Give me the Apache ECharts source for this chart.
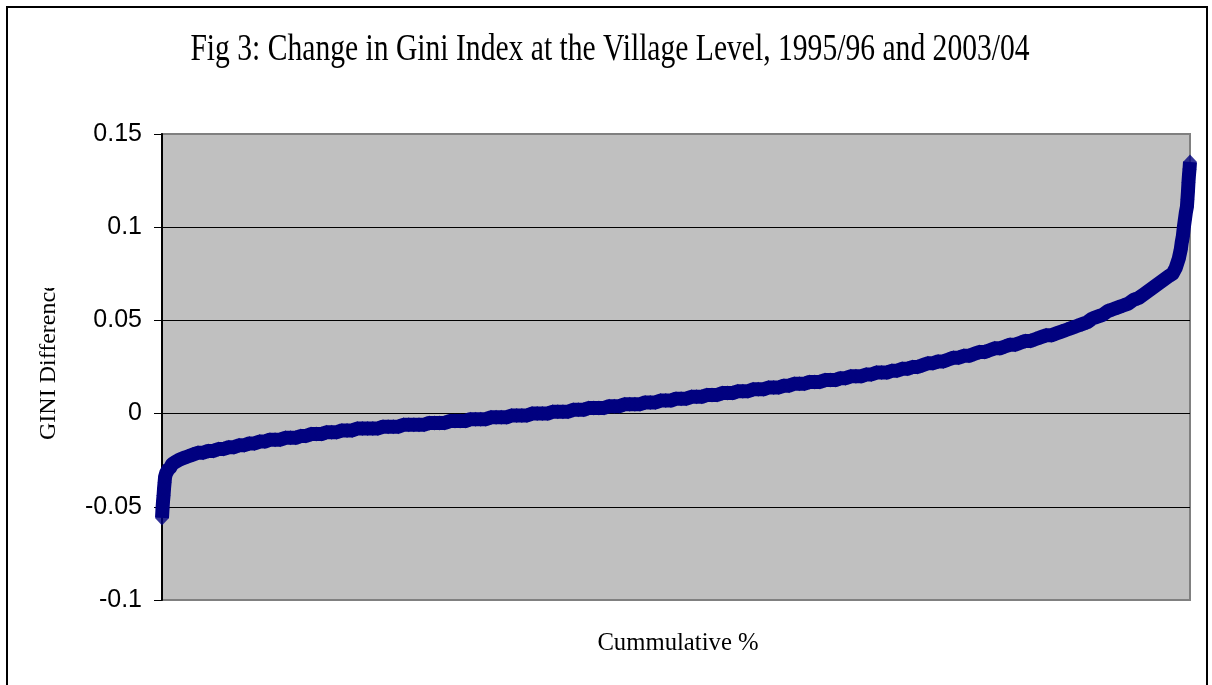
<!DOCTYPE html>
<html>
<head>
<meta charset="utf-8">
<title>Change in Gini Index at the Village Level</title>
<script src="https://cdn.jsdelivr.net/npm/echarts@6/dist/echarts.min.js"></script>
<style>
  html, body { margin: 0; padding: 0; background: #fff; }
  #main { width: 1212px; height: 685px; }
</style>
</head>
<body>
<div id="main"></div>
<script>
// cumulative % of villages (ranked)
const cumPct = [
  0, 0.05, 0.1, 0.15, 0.2, 0.25, 0.3, 0.4, 0.5, 0.6,
  0.8, 1, 1.3, 1.6, 2, 2.5, 3, 3.5, 4, 4.5,
  5, 5.5, 6, 6.5, 7, 7.5, 8, 8.5, 9, 9.5,
  10, 10.5, 11, 11.5, 12, 12.5, 13, 13.5, 14, 14.5,
  15, 15.5, 16, 16.5, 17, 17.5, 18, 18.5, 19, 19.5,
  20, 20.5, 21, 21.5, 22, 22.5, 23, 23.5, 24, 24.5,
  25, 25.5, 26, 26.5, 27, 27.5, 28, 28.5, 29, 29.5,
  30, 30.5, 31, 31.5, 32, 32.5, 33, 33.5, 34, 34.5,
  35, 35.5, 36, 36.5, 37, 37.5, 38, 38.5, 39, 39.5,
  40, 40.5, 41, 41.5, 42, 42.5, 43, 43.5, 44, 44.5,
  45, 45.5, 46, 46.5, 47, 47.5, 48, 48.5, 49, 49.5,
  50, 50.5, 51, 51.5, 52, 52.5, 53, 53.5, 54, 54.5,
  55, 55.5, 56, 56.5, 57, 57.5, 58, 58.5, 59, 59.5,
  60, 60.5, 61, 61.5, 62, 62.5, 63, 63.5, 64, 64.5,
  65, 65.5, 66, 66.5, 67, 67.5, 68, 68.5, 69, 69.5,
  70, 70.5, 71, 71.5, 72, 72.5, 73, 73.5, 74, 74.5,
  75, 75.5, 76, 76.5, 77, 77.5, 78, 78.5, 79, 79.5,
  80, 80.5, 81, 81.5, 82, 82.5, 83, 83.5, 84, 84.5,
  85, 85.5, 86, 86.5, 87, 87.5, 88, 88.5, 89, 89.5,
  90, 90.5, 91, 91.5, 92, 92.5, 93, 93.5, 94, 94.5,
  95, 95.5, 96, 96.5, 97, 97.5, 98,
  98.3, 98.6, 98.9, 99.1, 99.2, 99.3, 99.4, 99.5, 99.6, 99.7,
  99.75, 99.8, 99.85, 99.9, 99.95, 100
];

// GINI difference for each village
const giniDiff = [
  -0.056, -0.051, -0.047, -0.044, -0.040, -0.037, -0.034, -0.032, -0.031, -0.030,
  -0.029, -0.027, -0.026, -0.025, -0.024, -0.023, -0.022, -0.021, -0.021, -0.020,
  -0.020, -0.019, -0.019, -0.018, -0.018, -0.017, -0.017, -0.016, -0.016, -0.015,
  -0.015, -0.014, -0.014, -0.014, -0.013, -0.013, -0.013, -0.012, -0.012, -0.011,
  -0.011, -0.011, -0.010, -0.010, -0.010, -0.009, -0.009, -0.009, -0.008, -0.008,
  -0.008, -0.008, -0.008, -0.007, -0.007, -0.007, -0.007, -0.006, -0.006, -0.006,
  -0.006, -0.006, -0.005, -0.005, -0.005, -0.005, -0.004, -0.004, -0.004, -0.004,
  -0.003, -0.003, -0.003, -0.003, -0.002, -0.002, -0.002, -0.002, -0.001, -0.001,
  -0.001, -0.001, 0, 0, 0, 0, 0.001, 0.001, 0.001, 0.001,
  0.002, 0.002, 0.002, 0.003, 0.003, 0.003, 0.003, 0.004, 0.004, 0.004,
  0.005, 0.005, 0.005, 0.005, 0.006, 0.006, 0.006, 0.007, 0.007, 0.007,
  0.008, 0.008, 0.008, 0.009, 0.009, 0.009, 0.010, 0.010, 0.010, 0.011,
  0.011, 0.011, 0.012, 0.012, 0.012, 0.013, 0.013, 0.013, 0.014, 0.014,
  0.014, 0.015, 0.015, 0.016, 0.016, 0.016, 0.017, 0.017, 0.017, 0.018,
  0.018, 0.018, 0.019, 0.019, 0.020, 0.020, 0.020, 0.021, 0.021, 0.022,
  0.022, 0.022, 0.023, 0.023, 0.024, 0.024, 0.025, 0.025, 0.026, 0.027,
  0.027, 0.028, 0.028, 0.029, 0.030, 0.030, 0.031, 0.031, 0.032, 0.033,
  0.033, 0.034, 0.035, 0.035, 0.036, 0.037, 0.037, 0.038, 0.039, 0.039,
  0.040, 0.041, 0.042, 0.042, 0.043, 0.044, 0.045, 0.046, 0.047, 0.048,
  0.049, 0.051, 0.052, 0.053, 0.055, 0.056, 0.057, 0.058, 0.059, 0.061,
  0.062, 0.064, 0.066, 0.068, 0.070, 0.072, 0.074,
  0.075, 0.078, 0.083, 0.088, 0.092, 0.095, 0.100, 0.104, 0.108, 0.111,
  0.115, 0.119, 0.124, 0.128, 0.131, 0.135
];

const yTicks = { min: -0.1, max: 0.15, interval: 0.05 };

const titleText = 'Fig 3: Change in Gini Index at the Village Level, 1995/96 and 2003/04';
const xName = 'Cummulative %';
const yName = 'GINI Difference';

const points = cumPct.map((x, i) => [x, giniDiff[i]]);

const markerColor = '#000080';

const myChart = echarts.init(document.getElementById('main'), null, { renderer: 'canvas' });

const option = {
  backgroundColor: '#ffffff',
  animation: false,
  grid: {
    left: 162,
    right: 22,
    top: 134,
    bottom: 85,
    show: true,
    backgroundColor: '#c0c0c0',
    borderColor: '#808080',
    borderWidth: 2
  },
  xAxis: {
    type: 'value',
    min: 0,
    max: 100,
    axisLine: { show: false },
    axisTick: { show: false },
    axisLabel: { show: false },
    splitLine: { show: false }
  },
  yAxis: {
    type: 'value',
    min: yTicks.min,
    max: yTicks.max,
    interval: yTicks.interval,
    axisLine: { show: true, lineStyle: { color: '#000', width: 2 } },
    axisTick: { show: true, length: 8, lineStyle: { color: '#000', width: 1 } },
    axisLabel: {
      color: '#000',
      fontFamily: '"Liberation Sans", Arial, sans-serif',
      fontSize: 25,
      margin: 20
    },
    splitLine: {
      show: true,
      showMinLine: false,
      showMaxLine: false,
      lineStyle: { color: '#000', width: 1 }
    }
  },
  series: [
    {
      // markers overlap so densely in the original that they form a solid band
      type: 'line',
      data: points,
      showSymbol: false,
      symbol: 'none',
      clip: false,
      lineStyle: { color: markerColor, width: 14, cap: 'butt', join: 'round' },
      z: 2
    },
    {
      type: 'scatter',
      data: points,
      symbol: 'diamond',
      symbolSize: [14, 15],
      clip: false,
      itemStyle: { color: markerColor },
      z: 3
    }
  ],
  graphic: [
    {
      type: 'rect',
      z: 100,
      silent: true,
      shape: { x: 7, y: 7, width: 1200, height: 700 },
      style: { fill: 'none', stroke: '#000', lineWidth: 2 }
    },
    {
      type: 'text',
      x: 610,
      y: 50,
      scaleX: 0.8,
      style: {
        text: titleText,
        font: '37px "Liberation Serif", "Times New Roman", serif',
        fill: '#000',
        textAlign: 'center',
        textVerticalAlign: 'middle'
      }
    },
    {
      type: 'text',
      x: 678,
      y: 643,
      scaleX: 0.95,
      style: {
        text: xName,
        font: '26px "Liberation Serif", "Times New Roman", serif',
        fill: '#000',
        textAlign: 'center',
        textVerticalAlign: 'middle'
      }
    },
    {
      type: 'text',
      x: 49,
      y: 440,
      rotation: Math.PI / 2,
      style: {
        text: yName,
        font: '24px "Liberation Serif", "Times New Roman", serif',
        fill: '#000',
        textAlign: 'left',
        textVerticalAlign: 'middle'
      }
    },
    {
      // the name is cut off at the top in the original
      type: 'rect',
      z: 50,
      silent: true,
      shape: { x: 30, y: 150, width: 36, height: 138 },
      style: { fill: '#fff' }
    }
  ]
};

myChart.setOption(option);
</script>
</body>
</html>
